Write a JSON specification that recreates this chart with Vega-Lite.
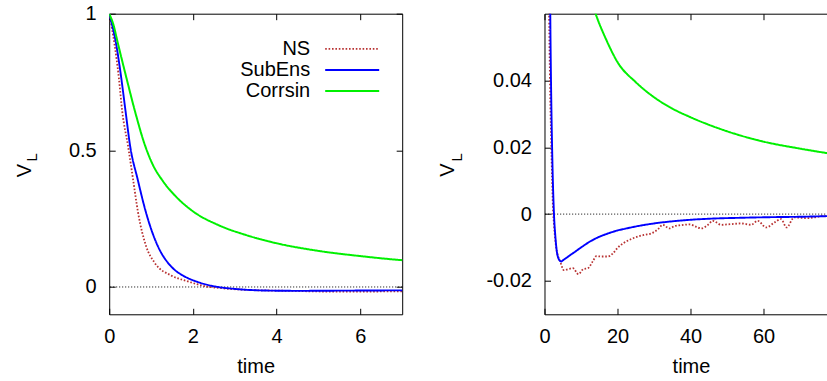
{
  "$schema": "https://vega.github.io/schema/vega-lite/v6.json",
  "autosize": {"type": "pad"},
  "padding": {"left": 13.2, "top": 2.7, "right": 0, "bottom": 0},
  "spacing": 142.3,
  "bounds": "flush",
  "config": {
    "font": "Liberation Sans",
    "view": {"stroke": "black", "strokeWidth": 1},
    "axis": {
      "labelFont": "Liberation Sans", "labelFontSize": 20, "labelColor": "black",
      "titleFont": "Liberation Sans", "titleFontSize": 20, "titleColor": "black", "titleFontWeight": "normal",
      "grid": false, "domain": false, "tickColor": "black", "tickSize": -6, "tickWidth": 1,
      "labelFlush": false, "labelOverlap": false,
      "labelExpr": "'' + datum.value"
    },
    "legend": {"labelFont": "Liberation Sans", "labelFontSize": 20, "labelColor": "black"}
  },
  "datasets": {
    "zero": [{"z": 0}],
    "curves": [
      {"s": "NS", "t": 0, "v": 1},
      {"s": "NS", "t": 0.127, "v": 0.888},
      {"s": "NS", "t": 0.23, "v": 0.766},
      {"s": "NS", "t": 0.31, "v": 0.644},
      {"s": "NS", "t": 0.45, "v": 0.516},
      {"s": "NS", "t": 0.57, "v": 0.394},
      {"s": "NS", "t": 0.69, "v": 0.272},
      {"s": "NS", "t": 0.88, "v": 0.15},
      {"s": "NS", "t": 1.08, "v": 0.09},
      {"s": "NS", "t": 1.48, "v": 0.042},
      {"s": "NS", "t": 1.84, "v": 0.022},
      {"s": "NS", "t": 2.1, "v": 0.01},
      {"s": "NS", "t": 2.32, "v": 0.002},
      {"s": "NS", "t": 2.6, "v": -0.003},
      {"s": "NS", "t": 3.2, "v": -0.010},
      {"s": "NS", "t": 4.4, "v": -0.0145},
      {"s": "NS", "t": 5.3, "v": -0.0168},
      {"s": "NS", "t": 6.4, "v": -0.0165},
      {"s": "NS", "t": 7.8, "v": -0.0162},
      {"s": "NS", "t": 9.3, "v": -0.018},
      {"s": "NS", "t": 10.6, "v": -0.0165},
      {"s": "NS", "t": 11.9, "v": -0.0162},
      {"s": "NS", "t": 13.3, "v": -0.014},
      {"s": "NS", "t": 14.2, "v": -0.0126},
      {"s": "NS", "t": 15.5, "v": -0.0127},
      {"s": "NS", "t": 17.4, "v": -0.0127},
      {"s": "NS", "t": 18.7, "v": -0.0118},
      {"s": "NS", "t": 20.1, "v": -0.010},
      {"s": "NS", "t": 21.9, "v": -0.0085},
      {"s": "NS", "t": 23.7, "v": -0.0075},
      {"s": "NS", "t": 25.6, "v": -0.0067},
      {"s": "NS", "t": 27.4, "v": -0.0062},
      {"s": "NS", "t": 29.2, "v": -0.0058},
      {"s": "NS", "t": 31.1, "v": -0.0045},
      {"s": "NS", "t": 32.4, "v": -0.0032},
      {"s": "NS", "t": 34.2, "v": -0.0043},
      {"s": "NS", "t": 35.6, "v": -0.0036},
      {"s": "NS", "t": 37.4, "v": -0.0033},
      {"s": "NS", "t": 39.7, "v": -0.0031},
      {"s": "NS", "t": 41.6, "v": -0.0038},
      {"s": "NS", "t": 42.9, "v": -0.0043},
      {"s": "NS", "t": 44.8, "v": -0.0032},
      {"s": "NS", "t": 46.1, "v": -0.0020},
      {"s": "NS", "t": 48.4, "v": -0.0032},
      {"s": "NS", "t": 51.1, "v": -0.0030},
      {"s": "NS", "t": 53.9, "v": -0.0028},
      {"s": "NS", "t": 56.6, "v": -0.0032},
      {"s": "NS", "t": 58.4, "v": -0.0020},
      {"s": "NS", "t": 60.7, "v": -0.0040},
      {"s": "NS", "t": 63, "v": -0.0025},
      {"s": "NS", "t": 64.8, "v": -0.0015},
      {"s": "NS", "t": 66.3, "v": -0.0040},
      {"s": "NS", "t": 68.4, "v": -0.0010},
      {"s": "NS", "t": 72, "v": -0.0012},
      {"s": "NS", "t": 73.9, "v": -0.0010},
      {"s": "NS", "t": 76.1, "v": -0.0006},
      {"s": "NS", "t": 77.7, "v": -0.0008},
      {"s": "SubEns", "t": 0, "v": 1},
      {"s": "SubEns", "t": 0.167, "v": 0.888},
      {"s": "SubEns", "t": 0.287, "v": 0.766},
      {"s": "SubEns", "t": 0.39, "v": 0.644},
      {"s": "SubEns", "t": 0.5, "v": 0.516},
      {"s": "SubEns", "t": 0.68, "v": 0.394},
      {"s": "SubEns", "t": 0.88, "v": 0.272},
      {"s": "SubEns", "t": 1.16, "v": 0.15},
      {"s": "SubEns", "t": 1.4, "v": 0.089},
      {"s": "SubEns", "t": 1.6, "v": 0.058},
      {"s": "SubEns", "t": 1.76, "v": 0.042},
      {"s": "SubEns", "t": 2.16, "v": 0.016},
      {"s": "SubEns", "t": 2.6, "v": 0.0},
      {"s": "SubEns", "t": 3.0, "v": -0.007},
      {"s": "SubEns", "t": 3.3, "v": -0.0105},
      {"s": "SubEns", "t": 3.8, "v": -0.0132},
      {"s": "SubEns", "t": 4.57, "v": -0.0142},
      {"s": "SubEns", "t": 5.2, "v": -0.0137},
      {"s": "SubEns", "t": 6, "v": -0.0131},
      {"s": "SubEns", "t": 7, "v": -0.0123},
      {"s": "SubEns", "t": 8.2, "v": -0.0114},
      {"s": "SubEns", "t": 10, "v": -0.0100},
      {"s": "SubEns", "t": 12.8, "v": -0.0080},
      {"s": "SubEns", "t": 15, "v": -0.0068},
      {"s": "SubEns", "t": 17.4, "v": -0.0058},
      {"s": "SubEns", "t": 20, "v": -0.0049},
      {"s": "SubEns", "t": 22, "v": -0.0044},
      {"s": "SubEns", "t": 26.5, "v": -0.0034},
      {"s": "SubEns", "t": 30, "v": -0.0028},
      {"s": "SubEns", "t": 35.6, "v": -0.0021},
      {"s": "SubEns", "t": 40, "v": -0.0017},
      {"s": "SubEns", "t": 44.8, "v": -0.0014},
      {"s": "SubEns", "t": 53.9, "v": -0.0011},
      {"s": "SubEns", "t": 63, "v": -0.0009},
      {"s": "SubEns", "t": 70, "v": -0.0008},
      {"s": "SubEns", "t": 77.7, "v": -0.0006},
      {"s": "Corrsin", "t": 0, "v": 1},
      {"s": "Corrsin", "t": 0.1, "v": 0.96},
      {"s": "Corrsin", "t": 0.21, "v": 0.89},
      {"s": "Corrsin", "t": 0.42, "v": 0.76},
      {"s": "Corrsin", "t": 0.63, "v": 0.635},
      {"s": "Corrsin", "t": 0.84, "v": 0.525},
      {"s": "Corrsin", "t": 1.04, "v": 0.448},
      {"s": "Corrsin", "t": 1.28, "v": 0.388},
      {"s": "Corrsin", "t": 1.6, "v": 0.33},
      {"s": "Corrsin", "t": 2.0, "v": 0.277},
      {"s": "Corrsin", "t": 2.63, "v": 0.225},
      {"s": "Corrsin", "t": 3.27, "v": 0.19},
      {"s": "Corrsin", "t": 4.0, "v": 0.16},
      {"s": "Corrsin", "t": 5.0, "v": 0.132},
      {"s": "Corrsin", "t": 6.0, "v": 0.113},
      {"s": "Corrsin", "t": 7.0, "v": 0.098},
      {"s": "Corrsin", "t": 8, "v": 0.089},
      {"s": "Corrsin", "t": 10, "v": 0.076},
      {"s": "Corrsin", "t": 12, "v": 0.067},
      {"s": "Corrsin", "t": 14, "v": 0.060},
      {"s": "Corrsin", "t": 17, "v": 0.052},
      {"s": "Corrsin", "t": 20, "v": 0.0455},
      {"s": "Corrsin", "t": 25, "v": 0.0395},
      {"s": "Corrsin", "t": 30, "v": 0.035},
      {"s": "Corrsin", "t": 35, "v": 0.0316},
      {"s": "Corrsin", "t": 40, "v": 0.029},
      {"s": "Corrsin", "t": 50, "v": 0.0248},
      {"s": "Corrsin", "t": 60, "v": 0.0217},
      {"s": "Corrsin", "t": 70, "v": 0.0196},
      {"s": "Corrsin", "t": 77.7, "v": 0.0182}
    ]
  },
  "hconcat": [
    {
      "width": 293,
      "height": 300.6,
      "layer": [
        {
          "data": {"name": "zero"},
          "mark": {"type": "rule", "color": "black", "strokeWidth": 1, "strokeDash": [1, 2]},
          "encoding": {
            "y": {"field": "z", "type": "quantitative", "scale": {"domain": [-0.1, 1], "nice": false, "zero": false}, "axis": null}
          }
        },
        {
          "data": {"name": "curves"},
          "mark": {"type": "line", "clip": true, "interpolate": "monotone"},
          "encoding": {
            "x": {"field": "t", "type": "quantitative", "scale": {"domain": [0, 7], "nice": false},
                  "axis": {"orient": "bottom", "values": [0, 2, 4, 6], "title": "time", "labelPadding": 18, "titleY": 58.2, "titleBaseline": "alphabetic"}},
            "y": {"field": "v", "type": "quantitative", "scale": {"domain": [-0.1, 1], "nice": false, "zero": false},
                  "axis": {"orient": "left", "values": [0, 0.5, 1], "title": "V", "labelPadding": 19, "titleAngle": -90, "titleX": -79, "titleY": 156.3, "titleAlign": "center", "titleBaseline": "alphabetic"}},
            "color": {"field": "s", "type": "nominal", "scale": {"domain": ["NS", "SubEns", "Corrsin"], "range": ["#b83232", "#0000ff", "#00f000"]},
                      "legend": {"orient": "none", "legendX": 215, "legendY": 25, "title": null, "symbolType": "stroke", "symbolSize": 2916, "labelAlign": "right", "labelOffset": -70, "clipHeight": 20.5, "rowPadding": 0, "padding": 0,
                                 "encode": {"entries": {"update": {"width": {"value": 64}}}}}},
            "strokeDash": {"field": "s", "type": "nominal", "scale": {"domain": ["NS", "SubEns", "Corrsin"], "range": [[1.6, 1.8], [1, 0], [1, 0]]}},
            "strokeWidth": {"field": "s", "type": "nominal", "scale": {"domain": ["NS", "SubEns", "Corrsin"], "range": [1.8, 2, 1.3]}}
          }
        },
        {
          "data": {"name": "curves"},
          "mark": {"type": "line", "opacity": 0, "clip": true},
          "encoding": {
            "x": {"field": "t", "type": "quantitative", "scale": {"domain": [0, 7], "nice": false},
                  "axis": {"orient": "top", "values": [0, 2, 4, 6], "labels": false, "title": "L", "titleFontSize": 15, "titleAngle": -90, "titleX": -72.5, "titleY": 143.1, "titleAlign": "center", "titleBaseline": "alphabetic"}},
            "y": {"field": "v", "type": "quantitative", "scale": {"domain": [-0.1, 1], "nice": false, "zero": false},
                  "axis": {"orient": "right", "values": [0, 0.5, 1], "labels": false, "title": null}},
            "detail": {"field": "s", "type": "nominal"}
          }
        }
      ],
      "resolve": {"axis": {"x": "independent", "y": "independent"}}
    },
    {
      "width": 283.7,
      "height": 300.6,
      "view": {"stroke": null},
      "layer": [
        {
          "data": {"name": "zero"},
          "mark": {"type": "rule", "color": "black", "strokeWidth": 1, "strokeDash": [1, 2]},
          "encoding": {
            "y": {"field": "z", "type": "quantitative", "scale": {"domain": [-0.03, 0.06], "nice": false, "zero": false}, "axis": null}
          }
        },
        {
          "data": {"name": "curves"},
          "mark": {"type": "line", "clip": true, "interpolate": "monotone"},
          "encoding": {
            "x": {"field": "t", "type": "quantitative", "scale": {"domain": [0, 77.7], "nice": false},
                  "axis": {"orient": "bottom", "values": [0, 20, 40, 60], "title": "time", "labelPadding": 18, "titleX": 146.5, "titleY": 58.2, "titleBaseline": "alphabetic", "domain": true, "domainColor": "black", "domainWidth": 1}},
            "y": {"field": "v", "type": "quantitative", "scale": {"domain": [-0.03, 0.06], "nice": false, "zero": false},
                  "axis": {"orient": "left", "values": [-0.02, 0, 0.02, 0.04], "title": "V", "labelPadding": 19, "titleAngle": -90, "titleX": -90.6, "titleY": 156, "titleAlign": "center", "titleBaseline": "alphabetic", "domain": true, "domainColor": "black", "domainWidth": 1}},
            "color": {"field": "s", "type": "nominal", "scale": {"domain": ["NS", "SubEns", "Corrsin"], "range": ["#b83232", "#0000ff", "#00f000"]},
                      "legend": {"orient": "none", "legendX": 215, "legendY": 25, "title": null, "symbolType": "stroke", "symbolSize": 2916, "labelAlign": "right", "labelOffset": -70, "clipHeight": 20.5, "rowPadding": 0, "padding": 0,
                                 "encode": {"entries": {"update": {"width": {"value": 64}}}}}},
            "strokeDash": {"field": "s", "type": "nominal", "scale": {"domain": ["NS", "SubEns", "Corrsin"], "range": [[1.6, 1.8], [1, 0], [1, 0]]}},
            "strokeWidth": {"field": "s", "type": "nominal", "scale": {"domain": ["NS", "SubEns", "Corrsin"], "range": [1.8, 2, 1.3]}}
          }
        },
        {
          "data": {"name": "curves"},
          "mark": {"type": "line", "opacity": 0, "clip": true},
          "encoding": {
            "x": {"field": "t", "type": "quantitative", "scale": {"domain": [0, 77.7], "nice": false},
                  "axis": {"orient": "top", "values": [0, 20, 40, 60], "labels": false, "title": "L", "titleFontSize": 15, "titleAngle": -90, "titleX": -83.3, "titleY": 143.1, "titleAlign": "center", "titleBaseline": "alphabetic", "domain": true, "domainColor": "black", "domainWidth": 1}},
            "y": {"field": "v", "type": "quantitative", "scale": {"domain": [-0.03, 0.06], "nice": false, "zero": false}, "axis": null},
            "detail": {"field": "s", "type": "nominal"}
          }
        }
      ],
      "resolve": {"axis": {"x": "independent", "y": "independent"}}
    }
  ]
}
